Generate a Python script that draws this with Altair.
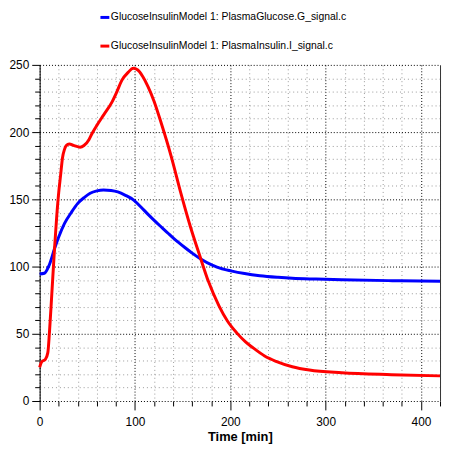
import altair as alt
import pandas as pd

# time points [min] and values
glucose_t = [0, 5, 10, 15.5, 20, 26, 33, 40, 47, 53, 60, 67, 75, 82, 90, 98, 106, 114,
             121, 128.6, 135, 140, 145, 153, 160, 169, 181, 186, 201.7, 215, 231, 250,
             265, 290, 317, 370, 420]
glucose = [94.5, 95, 101, 113, 122, 132, 140, 147, 151.5, 154.5, 156.3, 157, 156.6, 155.5,
           153, 149.8, 144.5, 138.6, 133.8, 128.8, 124.6, 121.4, 118.4, 113.8, 110, 105.6,
           101, 99.5, 96.6, 94.8, 93.2, 92, 91.3, 90.7, 90.2, 89.5, 89]

insulin_t = [0, 2, 6, 8.6, 10.3, 12.8, 15.5, 18, 20, 22, 24, 26, 28, 31, 36.2, 42.4, 46.5,
             51.7, 55, 60, 67.2, 76, 81, 86.2, 93.1, 98, 103, 108, 113.8, 120, 127.6,
             138, 148, 158, 168, 177, 188, 197, 207, 216, 224, 236, 248, 265, 283, 317,
             369, 420]
insulin = [25, 29, 31, 36, 51, 80, 112, 138, 155, 168, 181, 187, 190, 191.2, 190, 188.8,
           190, 194.4, 199, 205, 212.8, 222.5, 230, 238.5, 244.6, 247.5, 246.2, 241.5, 233.6,
           223, 206.6, 182, 155, 130, 108, 89, 71, 59.5, 50.5, 44, 39.5, 33.5, 29.5, 25.5,
           23, 21, 19.6, 18.7]

series = ["GlucoseInsulinModel 1: PlasmaGlucose.G_signal.c",
          "GlucoseInsulinModel 1: PlasmaInsulin.I_signal.c"]
colors = ["#0000ff", "#ff0000"]

x_ticks = list(range(0, 421, 20))
y_ticks = list(range(0, 251, 10))

df = pd.concat([
    pd.DataFrame({"t": glucose_t, "v": glucose, "s": series[0], "o": 0}),
    pd.DataFrame({"t": insulin_t, "v": insulin, "s": series[1], "o": 1}),
])

font = "Liberation Sans"

x_axis = alt.Axis(
    values=x_ticks, title="Time [min]", titleFontWeight="bold", titleFontSize=13,
    titleFont=font, titleColor="black", titlePadding=3,
    labelExpr="datum.value % 100 == 0 ? datum.label : ''",
    labelFont=font, labelFontSize=12, labelColor="black", labelPadding=7,
    labelFlush=False, labelOverlap=False, labelBound=False, domain=False,
    tickColor="black",
    tickSize=alt.condition("datum.value % 100 == 0", alt.value(9), alt.value(5)),
    gridColor=alt.condition("datum.value % 100 == 0", alt.value("black"), alt.value("#999999")),
    gridDash=alt.condition("datum.value % 100 == 0", alt.value([1, 2]), alt.value([1, 3])),
    gridOpacity=1,
)
y_axis = alt.Axis(
    values=y_ticks, title=None,
    labelExpr="datum.value % 50 == 0 ? datum.label : ''",
    labelFont=font, labelFontSize=12, labelColor="black", labelPadding=3,
    labelFlush=False, labelOverlap=False, domain=True, domainColor="black",
    tickColor="black",
    tickSize=alt.condition("datum.value % 50 == 0", alt.value(8), alt.value(5)),
    gridColor=alt.condition("datum.value % 50 == 0", alt.value("black"), alt.value("#999999")),
    gridDash=alt.condition("datum.value % 50 == 0", alt.value([1, 2]), alt.value([1, 3])),
    gridOpacity=1,
)

x_enc = alt.X("t:Q", scale=alt.Scale(domain=[0, 420], nice=False, zero=False), axis=x_axis)

lines = alt.Chart(df).mark_line(strokeWidth=3, interpolate="monotone").encode(
    x=x_enc,
    y=alt.Y("v:Q", scale=alt.Scale(domain=[0, 250], nice=False), axis=y_axis),
    color=alt.Color("s:N", scale=alt.Scale(domain=series, range=colors),
                    legend=alt.Legend(
                        title=None, orient="none", legendX=60, legendY=-54,
                        direction="vertical", symbolType="stroke", symbolSize=81,
                        symbolStrokeWidth=3, labelFont=font, labelFontSize=10.5,
                        labelColor="black", rowPadding=17, labelOffset=0,
                        labelLimit=0)),
    order="o:Q",
)

# plain right edge of the frame
edge = alt.Chart(df).mark_line(opacity=0).encode(
    x=x_enc,
    y=alt.Y("v:Q", axis=alt.Axis(orient="right", labels=False, ticks=False, grid=False,
                                 domain=True, domainColor="#333333", title=None)),
)

chart = alt.layer(lines, edge).resolve_axis(y="independent").properties(
    width=405, height=340,
    autosize=alt.AutoSizeParams(type="none"),
    padding={"left": 32, "top": 55, "right": 2, "bottom": 46},
).configure_view(stroke=None)

chart.save("out.html", embed_options={"renderer": "svg", "actions": False})
